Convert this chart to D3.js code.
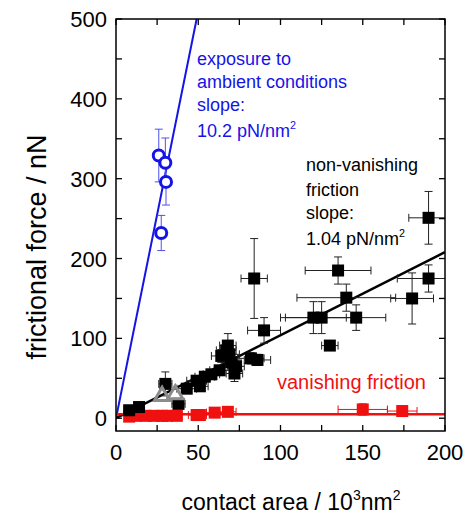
<!DOCTYPE html>
<html><head><meta charset="utf-8">
<script src="https://cdn.jsdelivr.net/npm/d3@7"></script>
<style>body{margin:0;background:#fff}svg{display:block}</style>
</head><body>
<script>
// ---- data ----
// black squares: non-vanishing friction [area (10^3 nm^2), force (nN), area err, force err]
const blackArea  = [8, 14, 30, 38, 43, 49, 51, 54, 58, 63, 64, 67, 68, 69, 70, 72, 73, 82, 86, 84, 90, 120, 125, 130, 135, 140, 146, 180, 190, 190];
const blackForce = [10, 14, 43, 18, 37, 47, 40, 52, 55, 60, 78, 85, 91, 80, 70, 56, 65, 75, 73, 175, 110, 126, 126, 91, 185, 151, 126, 150, 175, 251];
const blackAreaErr  = [3, 3, 4, 4, 6, 6, 5, 6, 5, 6, 6, 6, 5, 6, 6, 5, 5, 8, 8, 8, 10, 20, 22, 5, 20, 30, 18, 13, 19, 12];
const blackForceErr = [3, 3, 15, 5, 6, 6, 6, 6, 5, 6, 8, 8, 15, 8, 8, 10, 8, 7, 7, 50, 16, 20, 20, 6, 17, 17, 16, 32, 17, 33];
// red squares: vanishing friction
const redArea  = [8, 12, 18, 23, 28, 31, 37, 49, 51, 60, 68, 150, 174];
const redForce = [2, 3, 3, 3, 3, 3, 3, 4, 4, 7, 8, 11, 9];
const redAreaErr  = [2, 3, 3, 4, 3, 4, 3, 5, 4, 5, 5, 15, 9];
const redForceErr = [3, 3, 3, 4, 3, 4, 3, 6, 5, 5, 4, 7, 6];
// blue open circles: exposure to ambient conditions
const blueArea  = [26, 30, 30.4, 27.5];
const blueForce = [329, 320, 296, 232];
const blueAreaErr  = [3, 3, 3, 3];
const blueForceErr = [33, 31, 29, 22];
// gray open triangles
const grayArea  = [28, 36];
const grayForce = [29, 31];
// fit lines (slopes in nN per 10^3 nm^2)
const blueSlope = 10.2;
const blackSlope = 1.04;
const redLevel = 5;
const xTicks = [0, 25, 50, 75, 100, 125, 150, 175, 200];
const xTickLabels = [0, 50, 100, 150, 200];
const yTicks = [0, 50, 100, 150, 200, 250, 300, 350, 400, 450, 500];
const yTickLabels = [0, 100, 200, 300, 400, 500];

const W = 473, H = 517;
const L = 116, R = 445, T = 19, B = 431;
const svg = d3.select("body").append("svg").attr("width", W).attr("height", H)
  .style("font-family", "'Liberation Sans', Arial, Helvetica, sans-serif");
const x = d3.scaleLinear().domain([0, 200]).range([L, R]);
const y = d3.scaleLinear().domain([-16, 500]).range([B, T]);

const blue = "#1414e6", red = "#f01010", gray = "#8c8c8c";

svg.append("defs").append("clipPath").attr("id", "clip")
  .append("rect").attr("x", L).attr("y", T).attr("width", R - L).attr("height", B - T);

const plot = svg.append("g").attr("clip-path", "url(#clip)");

// fit lines
const line = d3.line().x(d => x(d[0])).y(d => y(d[1]));
plot.append("path").datum([[0, 0], [500 / blueSlope, 500]]).attr("d", line)
  .attr("stroke", blue).attr("stroke-width", 2).attr("fill", "none");
plot.append("path").datum([[0, 0], [200, 200 * blackSlope]]).attr("d", line)
  .attr("stroke", "#000").attr("stroke-width", 2.5).attr("fill", "none");
plot.append("path").datum([[0, redLevel], [200, redLevel]]).attr("d", line)
  .attr("stroke", red).attr("stroke-width", 2.5).attr("fill", "none");

function errorBars(areas, forces, aErr, fErr, color, width) {
  const g = plot.append("g").attr("stroke", color).attr("stroke-width", width).attr("fill", "none");
  const cap = 4;
  areas.forEach((a, i) => {
    const cx = x(a), cy = y(forces[i]);
    const x0 = x(a - aErr[i]), x1 = x(a + aErr[i]);
    const y0 = y(forces[i] - fErr[i]), y1 = y(forces[i] + fErr[i]);
    g.append("line").attr("x1", x0).attr("x2", x1).attr("y1", cy).attr("y2", cy);
    g.append("line").attr("x1", x0).attr("x2", x0).attr("y1", cy - cap).attr("y2", cy + cap);
    g.append("line").attr("x1", x1).attr("x2", x1).attr("y1", cy - cap).attr("y2", cy + cap);
    g.append("line").attr("x1", cx).attr("x2", cx).attr("y1", y0).attr("y2", y1);
    g.append("line").attr("x1", cx - cap).attr("x2", cx + cap).attr("y1", y0).attr("y2", y0);
    g.append("line").attr("x1", cx - cap).attr("x2", cx + cap).attr("y1", y1).attr("y2", y1);
  });
}
errorBars(blackArea, blackForce, blackAreaErr, blackForceErr, "#222", 1);
errorBars(redArea, redForce, redAreaErr, redForceErr, red, 1);
errorBars(blueArea, blueForce, blueAreaErr, blueForceErr, "#5050f0", 1);

const sq = 12;
plot.append("g").selectAll("rect").data(redArea).join("rect")
  .attr("x", (d) => x(d) - sq / 2).attr("y", (d, i) => y(redForce[i]) - sq / 2)
  .attr("width", sq).attr("height", sq).attr("fill", red);
plot.append("g").selectAll("rect").data(blackArea).join("rect")
  .attr("x", (d) => x(d) - sq / 2).attr("y", (d, i) => y(blackForce[i]) - sq / 2)
  .attr("width", sq).attr("height", sq).attr("fill", "#000");
const tri = d3.symbol().type(d3.symbolTriangle).size(100);
plot.append("g").selectAll("path").data(grayArea).join("path")
  .attr("d", tri).attr("transform", (d, i) => `translate(${x(d)},${y(grayForce[i]) + 1})`)
  .attr("fill", "none").attr("stroke", gray).attr("stroke-width", 3);
plot.append("g").selectAll("circle").data(blueArea).join("circle")
  .attr("cx", d => x(d)).attr("cy", (d, i) => y(blueForce[i])).attr("r", 5.5)
  .attr("fill", "#fff").attr("stroke", blue).attr("stroke-width", 3);

// frame
svg.append("rect").attr("x", L).attr("y", T).attr("width", R - L).attr("height", B - T)
  .attr("fill", "none").attr("stroke", "#000").attr("stroke-width", 1.5);

// ticks (inward, all four sides)
const tk = 6;
const tg = svg.append("g").attr("stroke", "#000").attr("stroke-width", 1.3);
xTicks.forEach(v => {
  tg.append("line").attr("x1", x(v)).attr("x2", x(v)).attr("y1", B).attr("y2", B - tk);
  tg.append("line").attr("x1", x(v)).attr("x2", x(v)).attr("y1", T).attr("y2", T + tk);
});
yTicks.forEach(v => {
  tg.append("line").attr("x1", L).attr("x2", L + tk).attr("y1", y(v)).attr("y2", y(v));
  tg.append("line").attr("x1", R).attr("x2", R - tk).attr("y1", y(v)).attr("y2", y(v));
});

// tick labels
svg.append("g").selectAll("text").data(xTickLabels).join("text")
  .attr("x", d => x(d)).attr("y", 460).attr("text-anchor", "middle")
  .attr("font-size", 22).text(d => d);
svg.append("g").selectAll("text").data(yTickLabels).join("text")
  .attr("x", 107).attr("y", d => y(d) + 8).attr("text-anchor", "end")
  .attr("font-size", 22).text(d => d);

// axis titles
const xt = svg.append("text").attr("x", 291).attr("y", 510).attr("text-anchor", "middle").attr("font-size", 23);
xt.append("tspan").text("contact area / 10");
xt.append("tspan").attr("font-size", 14).attr("dy", -10).text("3");
xt.append("tspan").attr("dy", 10).text("nm");
xt.append("tspan").attr("font-size", 14).attr("dy", -10).text("2");
svg.append("text").attr("transform", "translate(46,247) rotate(-90)").attr("text-anchor", "middle")
  .attr("font-size", 27).text("frictional force / nN");

// annotations
function block(lines, x0, baselines, color, fs) {
  lines.forEach((t, i) => {
    const el = svg.append("text").attr("x", x0).attr("y", baselines[i]).attr("fill", color).attr("font-size", fs);
    if (t.endsWith("^2")) {
      el.append("tspan").text(t.slice(0, -2));
      el.append("tspan").attr("font-size", fs * 0.6).attr("dy", -8).text("2");
    } else el.text(t);
  });
}
block(["exposure to", "ambient conditions", "slope:", "10.2 pN/nm^2"], 197, [65, 88, 111, 137], blue, 18);
block(["non-vanishing", "friction", "slope:", "1.04 pN/nm^2"], 306, [171, 196, 219, 245], "#000", 18);
svg.append("text").attr("x", 277).attr("y", 389).attr("fill", red).attr("font-size", 20).text("vanishing friction");
</script>
</body></html>
